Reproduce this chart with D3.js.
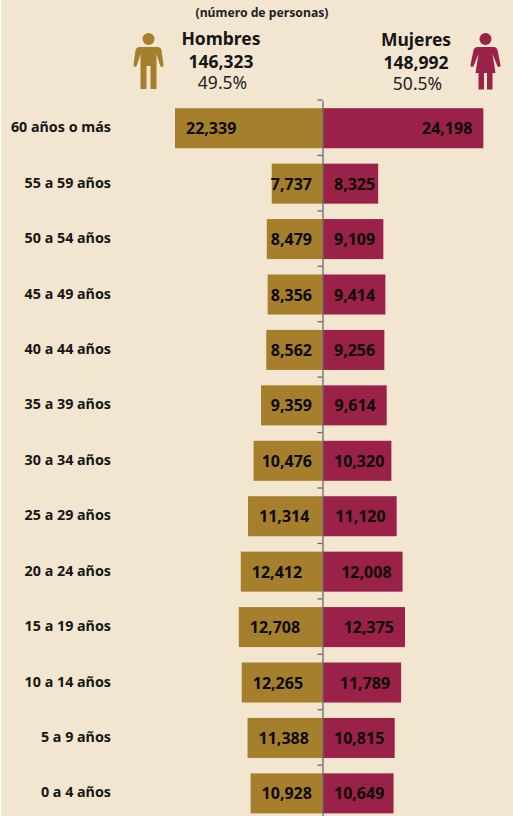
<!DOCTYPE html>
<html>
<head>
<meta charset="utf-8">
<script src="https://cdn.jsdelivr.net/npm/d3@7"></script>
<style>
    html, body { margin: 0; padding: 0; background: #f2e6d0; }
    svg { display: block; font-family: "Noto Sans", sans-serif; }
    .age { font-size: 14.3px; font-weight: 700; fill: #161616; }
    .value { font-size: 16px; font-weight: 700; fill: #0c0a08; }
    .head { font-weight: 700; fill: #161616; text-anchor: middle; }
</style>
</head>
<body>
<div id="chart"></div>
<script>
const ageGroups = ["60 años o más", "55 a 59 años", "50 a 54 años", "45 a 49 años", "40 a 44 años", "35 a 39 años",
    "30 a 34 años", "25 a 29 años", "20 a 24 años", "15 a 19 años", "10 a 14 años", "5 a 9 años", "0 a 4 años"];
const hombres = [22339, 7737, 8479, 8356, 8562, 9359, 10476, 11314, 12412, 12708, 12265, 11388, 10928];
const mujeres = [24198, 8325, 9109, 9414, 9256, 9614, 10320, 11120, 12008, 12375, 11789, 10815, 10649];
const subtitle = "(número de personas)";
const totales = [
    {name: "Hombres", total: "146,323", pct: "49.5%"},
    {name: "Mujeres", total: "148,992", pct: "50.5%"}
];

const width = 513, height = 816;
const colorH = "#a67f2c", colorM = "#9a2147";

const svg = d3.select("#chart").append("svg")
    .attr("width", width)
    .attr("height", height);

// thin white strip on the left edge of the picture
svg.append("rect").attr("width", 1).attr("height", height).attr("fill", "#ffffff");

const pxPerUnit = 148 / 22339;
const xLeft = d3.scaleLinear().domain([0, 25000]).range([323, 323 - 25000 * pxPerUnit]);
const xRight = d3.scaleLinear().domain([0, 25000]).range([323, 323 + 25000 * pxPerUnit]);

const y = d3.scaleBand()
    .domain(ageGroups)
    .range([100.5, 100.5 + 55.43 * ageGroups.length])
    .paddingInner(0.278)
    .paddingOuter(0.139);

svg.selectAll(".barH")
    .data(ageGroups)
    .enter()
    .append("rect")
    .attr("class", "barH")
    .attr("x", (d, i) => xLeft(hombres[i]))
    .attr("y", d => y(d))
    .attr("width", (d, i) => 323 - xLeft(hombres[i]))
    .attr("height", y.bandwidth())
    .attr("fill", colorH);

svg.selectAll(".barM")
    .data(ageGroups)
    .enter()
    .append("rect")
    .attr("class", "barM")
    .attr("x", 323)
    .attr("y", d => y(d))
    .attr("width", (d, i) => xRight(mujeres[i]) - 323)
    .attr("height", y.bandwidth())
    .attr("fill", colorM);

// centre axis with a tick above each bar
const axis = d3.axisLeft(y).tickSize(5).tickFormat("").tickSizeOuter(0);
const axisG = svg.append("g")
    .attr("transform", "translate(322.5,0)")
    .call(axis);
axisG.select(".domain").attr("stroke", "#6b6b6b").attr("stroke-width", 1.3);
axisG.selectAll(".tick").attr("transform", d => `translate(0,${y(d) - y.step() * y.paddingInner() / 2 - 0.5})`);
axisG.selectAll(".tick line").attr("stroke", "#6b6b6b").attr("stroke-width", 1.3);

// age labels, right aligned on the left edge of the labels column
svg.selectAll(".age")
    .data(ageGroups)
    .enter()
    .append("text")
    .attr("class", "age")
    .attr("x", 111)
    .attr("y", d => y(d) + y.bandwidth() / 2 - 1)
    .attr("dy", "0.35em")
    .attr("text-anchor", "end")
    .text(d => d);

const fmt = d3.format(",");
const labelInset = 11;

// value labels sit 11px in from the bar end, pushed out when the bar is too short
svg.selectAll(".valH")
    .data(ageGroups)
    .enter()
    .append("text")
    .attr("class", "value valH")
    .attr("y", d => y(d) + y.bandwidth() / 2 + 0.5)
    .attr("dy", "0.35em")
    .text((d, i) => fmt(hombres[i]))
    .attr("x", function(d, i) {
        let w = this.getComputedTextLength();
        return Math.min(xLeft(hombres[i]) + labelInset, 323 - labelInset - w);
    });

svg.selectAll(".valM")
    .data(ageGroups)
    .enter()
    .append("text")
    .attr("class", "value valM")
    .attr("y", d => y(d) + y.bandwidth() / 2 + 0.5)
    .attr("dy", "0.35em")
    .text((d, i) => fmt(mujeres[i]))
    .attr("x", function(d, i) {
        let w = this.getComputedTextLength();
        return Math.max(xRight(mujeres[i]) - labelInset - w, 323 + labelInset);
    });

// header
svg.append("text")
    .attr("x", 262).attr("y", 17)
    .attr("text-anchor", "middle")
    .attr("font-size", 12.2)
    .attr("font-weight", 700)
    .attr("fill", "#222")
    .text(subtitle);

const headX = [221, 416], headY = [45, 46];
totales.forEach((t, i) => {
    svg.append("text").attr("class", "head").attr("x", headX[i]).attr("y", headY[i]).attr("font-size", 17.5).text(t.name);
    svg.append("text").attr("class", "head").attr("x", headX[i]).attr("y", headY[i] + 22.5).attr("font-size", 17.5).text(t.total);
    svg.append("text").attr("x", headX[i] + 1.5).attr("y", headY[i] + 43.5)
        .attr("text-anchor", "middle").attr("font-size", 17.5).attr("fill", "#222").text(t.pct);
});

// person icons
const man = svg.append("g").attr("transform", "translate(148.5,0)").attr("fill", colorH);
man.append("circle").attr("cx", 0).attr("cy", 39).attr("r", 6);
man.append("path").attr("d", "M-9,47 H9 Q12,47 13,50 L15,65 Q15,67 13.5,67 Q12,67 11.5,65 L8,54 V89 H2 V66 H-2 V89 H-8 V54 L-11.5,65 Q-12,67 -13.5,67 Q-15,67 -15,65 L-13,50 Q-12,47 -9,47 Z");

const woman = svg.append("g").attr("transform", "translate(485.5,0)").attr("fill", colorM);
woman.append("circle").attr("cx", 0).attr("cy", 39).attr("r", 6);
woman.append("path").attr("d", "M-8,47 H8 Q11,47 12,50 L15,65 Q15,67 13.5,67 Q12,67 11.5,65 L7,54 L10,73 H7 V89.5 H1.5 V73 H-1.5 V89.5 H-7 V73 H-10 L-7,54 L-11.5,65 Q-12,67 -13.5,67 Q-15,67 -15,65 L-12,50 Q-11,47 -8,47 Z");
</script>
</body>
</html>
